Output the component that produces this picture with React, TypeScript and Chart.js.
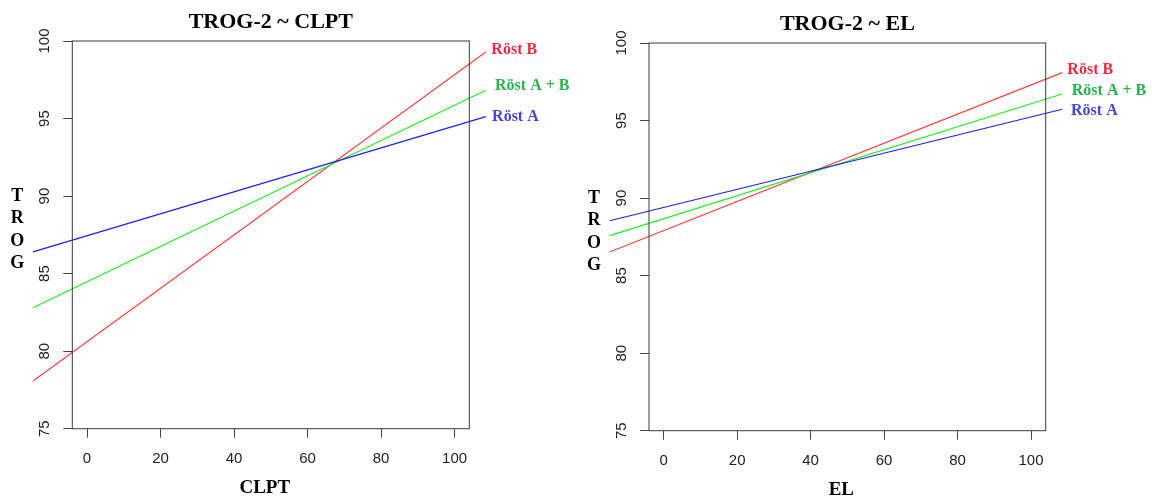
import React, { useEffect, useRef } from "react";
import { Chart, registerables } from "chart.js";

Chart.register(...registerables);

// ---- data ----
const xTickValues = [0, 20, 40, 60, 80, 100];
const yTickValues = [75, 80, 85, 90, 95, 100];
const seriesNames = ["Röst A", "Röst A + B", "Röst B"];
const lineX = [-14.7, 108.5];

const clptRostA = [86.4, 95.12];
const clptRostAB = [82.8, 96.82];
const clptRostB = [78.08, 99.29];
const clptLabelX = [110.2, 111.0, 110.0];
const clptLabelY = [95.12, 97.12, 99.42];

const elRostA = [88.54, 95.73];
const elRostAB = [87.58, 96.71];
const elRostB = [86.52, 98.09];
const elLabelX = [110.9, 111.1, 109.9];
const elLabelY = [95.62, 96.91, 98.3];

// ---- styles ----
const lineColors = ["#1f1fff", "#1fef1f", "#ff4040"];
const labelColors = ["#4646d2", "#26b44c", "#ee2a44"];
const SERIF = '"Liberation Serif", "Times New Roman", serif';
const SANS = '"Liberation Sans", Arial, sans-serif';

type Panel = {
  title: string;
  xTitle: string;
  series: number[][];
  labelX: number[];
  labelY: number[];
  yAxisWidth: number;
  xAxisHeight: number;
  padTop: number;
  padRight: number;
};

const panels: Panel[] = [
  {
    title: "TROG-2 ~ CLPT",
    xTitle: "CLPT",
    series: [clptRostA, clptRostAB, clptRostB],
    labelX: clptLabelX,
    labelY: clptLabelY,
    yAxisWidth: 72.3,
    xAxisHeight: 70.3,
    padTop: 41,
    padRight: 106.7,
  },
  {
    title: "TROG-2 ~ EL",
    xTitle: "EL",
    series: [elRostA, elRostAB, elRostB],
    labelX: elLabelX,
    labelY: elLabelY,
    yAxisWidth: 73,
    xAxisHeight: 68.3,
    padTop: 43,
    padRight: 106.3,
  },
];

const overlayPlugin = {
  id: "overlay",
  afterDraw(chart: any, _args: any, opts: any) {
    const { ctx, chartArea: a, scales } = chart;
    const xs = scales.x;
    const ys = scales.y;
    ctx.save();
    // plot box
    ctx.strokeStyle = "#3a3a3a";
    ctx.lineWidth = 1;
    ctx.strokeRect(a.left, a.top, a.right - a.left, a.bottom - a.top);
    // y tick labels (rotated, as in R)
    ctx.fillStyle = "#222";
    ctx.font = `15px ${SANS}`;
    ctx.textAlign = "center";
    ctx.textBaseline = "middle";
    ys.ticks.forEach((t: any) => {
      const py = ys.getPixelForValue(t.value);
      ctx.save();
      ctx.translate(a.left - 27, py);
      ctx.rotate(-Math.PI / 2);
      ctx.fillText(String(t.value), 0, 0);
      ctx.restore();
    });
    const cx = (a.left + a.right) / 2;
    // title
    ctx.fillStyle = "#000";
    ctx.font = `bold 22px ${SERIF}`;
    ctx.fillText(opts.title, cx, a.top - 19);
    // x title
    ctx.font = `bold 19px ${SERIF}`;
    ctx.fillText(opts.xTitle, cx - 6, a.bottom + 59.3);
    // y title, stacked letters
    ctx.font = `bold 18px ${SERIF}`;
    ["T", "R", "O", "G"].forEach((ch, i) => {
      ctx.fillText(ch, a.left - 55, a.top + 155 + i * 22.5);
    });
    // line labels
    ctx.font = `bold 16px ${SERIF}`;
    ctx.textAlign = "left";
    opts.labels.forEach((l: any) => {
      ctx.fillStyle = l.color;
      ctx.fillText(l.text, xs.getPixelForValue(l.x), ys.getPixelForValue(l.y));
    });
    ctx.restore();
  },
};

function PanelChart({ panel }: { panel: Panel }) {
  const ref = useRef<HTMLCanvasElement | null>(null);
  useEffect(() => {
    if (!ref.current) return;
    const datasets = panel.series.map((vals, i) => ({
      label: seriesNames[i],
      data: lineX.map((x, j) => ({ x, y: vals[j] })),
      borderColor: lineColors[i],
      backgroundColor: lineColors[i],
      borderWidth: 1.2,
      pointRadius: 0,
      fill: false,
      clip: false as any,
      tension: 0,
    }));
    const labels = seriesNames.map((name, i) => ({
      text: name,
      x: panel.labelX[i],
      y: panel.labelY[i],
      color: labelColors[i],
    }));
    const chart = new Chart(ref.current, {
      type: "line",
      data: { datasets },
      plugins: [overlayPlugin as any],
      options: {
        animation: false,
        responsive: false,
        devicePixelRatio: 1,
        parsing: false as any,
        layout: {
          padding: { left: 0, bottom: 0, top: panel.padTop, right: panel.padRight },
        },
        plugins: {
          legend: { display: false },
          title: { display: false },
          tooltip: { enabled: false },
          overlay: { title: panel.title, xTitle: panel.xTitle, labels },
        } as any,
        scales: {
          x: {
            type: "linear",
            min: -4,
            max: 104,
            afterBuildTicks: (s: any) => {
              s.ticks = xTickValues.map((v) => ({ value: v }));
            },
            afterFit: (s: any) => {
              s.height = panel.xAxisHeight;
            },
            grid: {
              drawOnChartArea: false,
              drawTicks: true,
              tickLength: 9,
              color: "#444",
            },
            border: { display: false },
            ticks: {
              color: "#222",
              font: { family: SANS, size: 15 },
              padding: 12,
              maxRotation: 0,
              minRotation: 0,
              callback: (v: any) => String(v),
            },
          },
          y: {
            type: "linear",
            min: 75,
            max: 100,
            afterBuildTicks: (s: any) => {
              s.ticks = yTickValues.map((v) => ({ value: v }));
            },
            afterFit: (s: any) => {
              s.width = panel.yAxisWidth;
            },
            grid: {
              drawOnChartArea: false,
              drawTicks: true,
              tickLength: 9,
              color: "#444",
            },
            border: { display: false },
            ticks: { display: false },
          },
        },
      } as any,
    });
    return () => chart.destroy();
  }, [panel]);
  return <canvas ref={ref} width={576} height={499} style={{ display: "block" }} />;
}

export default function App() {
  return (
    <div
      style={{
        position: "absolute",
        left: 0,
        top: 0,
        width: 1152,
        height: 499,
        background: "#fff",
        overflow: "hidden",
      }}
    >
      {panels.map((p, i) => (
        <div key={i} style={{ position: "absolute", left: i * 576, top: 0, width: 576, height: 499 }}>
          <PanelChart panel={p} />
        </div>
      ))}
    </div>
  );
}
